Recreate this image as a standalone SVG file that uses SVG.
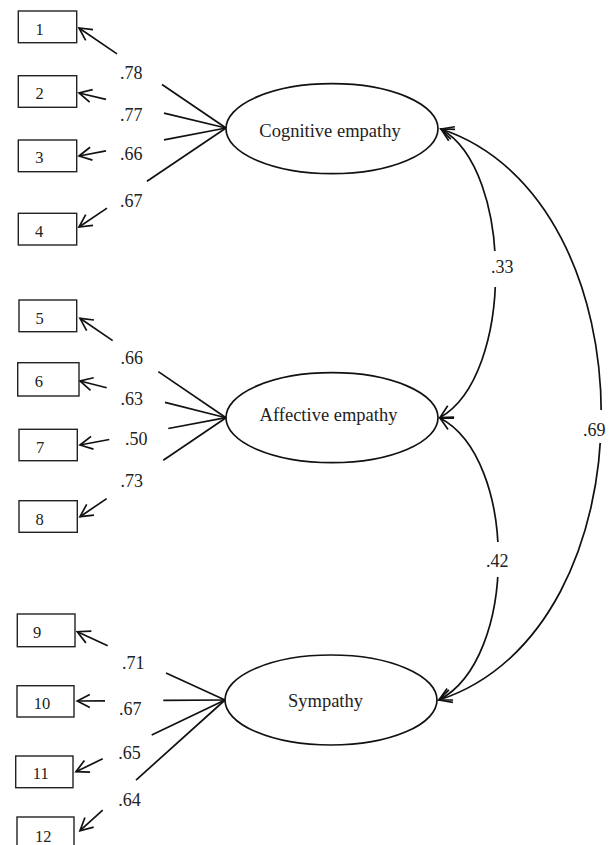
<svg xmlns="http://www.w3.org/2000/svg" width="616" height="845" viewBox="0 0 616 845">
<style>
.box{fill:#fff;stroke:#222;stroke-width:1.4}
.ell{fill:#fff;stroke:#111;stroke-width:1.7}
.ln{fill:none;stroke:#111;stroke-width:1.7}
.num{font-family:"Liberation Serif","Times New Roman",serif;font-size:16.5px;fill:#222;text-anchor:middle}
.lab{font-family:"Liberation Serif","Times New Roman",serif;font-size:18px;fill:#222}
.lat{font-family:"Liberation Serif","Times New Roman",serif;font-size:18.5px;fill:#222;text-anchor:middle}
.bg{fill:#fff;stroke:none}
</style>
<defs>
<marker id="ah" viewBox="-15 -8 17 16" refX="0" refY="0" markerWidth="17" markerHeight="16" markerUnits="userSpaceOnUse" orient="auto-start-reverse">
<path d="M-12.5,-6.5 L0,0 L-12.5,6.5" fill="none" stroke="#111" stroke-width="1.7"/>
</marker>
</defs>
<rect width="616" height="845" fill="#fff"/>

<g id="connectors">
<path class="ln" d="M226,128 L162,84.5"/>
<path class="ln" d="M117,53.9 L79,28" marker-end="url(#ah)"/>
<path class="ln" d="M226,128 L164,113.2"/>
<path class="ln" d="M106,99.4 L79,93" marker-end="url(#ah)"/>
<path class="ln" d="M226,128 L164,139.8"/>
<path class="ln" d="M106,150.9 L79,156" marker-end="url(#ah)"/>
<path class="ln" d="M226,128 L147,181.2"/>
<path class="ln" d="M107,208.1 L79,227" marker-end="url(#ah)"/>
<path class="ln" d="M226,417.7 L158.3,371.6"/>
<path class="ln" d="M112.7,340.6 L80,318.3" marker-end="url(#ah)"/>
<path class="ln" d="M226,417.7 L165,402.4"/>
<path class="ln" d="M106.7,387.7 L80,381" marker-end="url(#ah)"/>
<path class="ln" d="M226,417.7 L168.3,428.5"/>
<path class="ln" d="M109.3,439.5 L80,445" marker-end="url(#ah)"/>
<path class="ln" d="M226,417.7 L163.3,460.2"/>
<path class="ln" d="M106.7,498.6 L80,516.7" marker-end="url(#ah)"/>
<path class="ln" d="M225,700 L166,672.9"/>
<path class="ln" d="M107.7,645.8 L77.3,631.7" marker-end="url(#ah)"/>
<path class="ln" d="M225,700 L163.3,700.4"/>
<path class="ln" d="M105,700.9 L77.3,701" marker-end="url(#ah)"/>
<path class="ln" d="M225,700 L151.7,735.1"/>
<path class="ln" d="M102.7,758.8 L76,771.7" marker-end="url(#ah)"/>
<path class="ln" d="M225,700 L136,780.1"/>
<path class="ln" d="M102.7,810.2 L80,830.7" marker-end="url(#ah)"/>
<path class="ln" d="M441,129 C514,170 514,376 440,417.5" marker-start="url(#ah)" marker-end="url(#ah)"/>
<path class="ln" d="M440,418 C518,459 518,659 439,700" marker-start="url(#ah)" marker-end="url(#ah)"/>
<path class="ln" d="M441,129 C655,200 655,630 439,700" marker-start="url(#ah)" marker-end="url(#ah)"/>
<rect class="bg" x="488" y="251" width="28" height="36"/>
<rect class="bg" x="484" y="542" width="28" height="35"/>
<rect class="bg" x="582" y="410" width="28" height="33"/>
</g>

<g id="loading-labels">
<text class="lab" x="120" y="79">.78</text>
<text class="lab" x="120" y="120.5">.77</text>
<text class="lab" x="120" y="160">.66</text>
<text class="lab" x="120" y="207">.67</text>
<text class="lab" x="120.5" y="364">.66</text>
<text class="lab" x="120.5" y="405">.63</text>
<text class="lab" x="125" y="445">.50</text>
<text class="lab" x="120.5" y="486.7">.73</text>
<text class="lab" x="122" y="669.3">.71</text>
<text class="lab" x="119" y="715">.67</text>
<text class="lab" x="118.3" y="759">.65</text>
<text class="lab" x="118.3" y="806">.64</text>
<text class="lab" x="491" y="273">.33</text>
<text class="lab" x="486" y="567">.42</text>
<text class="lab" x="583" y="436">.69</text>
</g>

<g id="cognitive-empathy"><ellipse class="ell" cx="332" cy="128.7" rx="106" ry="45"/><text class="lat" x="330" y="136.5">Cognitive empathy</text></g>
<g id="affective-empathy"><ellipse class="ell" cx="332" cy="417.7" rx="106" ry="45"/><text class="lat" x="328.5" y="420.5">Affective empathy</text></g>
<g id="sympathy"><ellipse class="ell" cx="331" cy="700" rx="106" ry="45"/><text class="lat" x="325.5" y="706.5">Sympathy</text></g>

<g id="item1"><rect class="box" x="18.3" y="11" width="58.4" height="31.7"/><text class="num" x="39.5" y="34.5">1</text></g>
<g id="item2"><rect class="box" x="18.3" y="75.7" width="58.4" height="31.6"/><text class="num" x="39.5" y="99.3">2</text></g>
<g id="item3"><rect class="box" x="18.3" y="140" width="58.4" height="31.7"/><text class="num" x="39.3" y="163">3</text></g>
<g id="item4"><rect class="box" x="18.3" y="213.3" width="58.4" height="31.7"/><text class="num" x="39" y="237">4</text></g>
<g id="item5"><rect class="box" x="19" y="300" width="57.7" height="31.7"/><text class="num" x="39.5" y="324">5</text></g>
<g id="item6"><rect class="box" x="17.7" y="362.7" width="61.3" height="33.3"/><text class="num" x="38.8" y="387.3">6</text></g>
<g id="item7"><rect class="box" x="19" y="429.3" width="58.3" height="31.4"/><text class="num" x="40" y="453.3">7</text></g>
<g id="item8"><rect class="box" x="19" y="500.7" width="58.3" height="31.6"/><text class="num" x="39.5" y="525">8</text></g>
<g id="item9"><rect class="box" x="17.3" y="614" width="57.7" height="32.7"/><text class="num" x="37.2" y="638">9</text></g>
<g id="item10"><rect class="box" x="17" y="685.7" width="57" height="31.3"/><text class="num" x="42" y="709">10</text></g>
<g id="item11"><rect class="box" x="15.7" y="756" width="57.3" height="31.7"/><text class="num" x="40.8" y="779">11</text></g>
<g id="item12"><rect class="box" x="17" y="817" width="57" height="40"/><text class="num" x="43.3" y="841.7">12</text></g>
</svg>
